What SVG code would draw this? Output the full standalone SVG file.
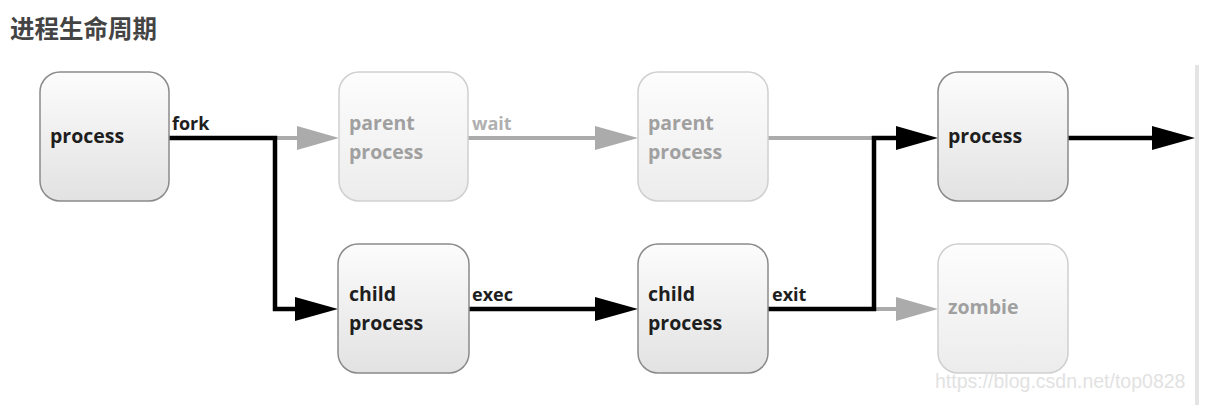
<svg xmlns="http://www.w3.org/2000/svg" width="1221" height="420" viewBox="0 0 1221 420">
<defs>
<linearGradient id="g" x1="0" y1="0" x2="0" y2="1"><stop offset="0" stop-color="#fcfcfc"/><stop offset="1" stop-color="#e2e2e2"/></linearGradient>
<linearGradient id="gf" x1="0" y1="0" x2="0" y2="1"><stop offset="0" stop-color="#fdfdfd"/><stop offset="1" stop-color="#ececec"/></linearGradient>
</defs>
<style>
.n{fill:url(#g);stroke:#8a8a8a;stroke-width:1.5}
.f{fill:url(#gf);stroke:#cfcfcf;stroke-width:1.5}
.t{font-family:"Open Sans","Liberation Sans",sans-serif;font-weight:bold;font-size:19.5px;fill:#1e1e1e}
.tf{font-family:"Open Sans","Liberation Sans",sans-serif;font-weight:bold;font-size:19.5px;fill:#a0a0a0}
.l{font-family:"Open Sans","Liberation Sans",sans-serif;font-weight:bold;font-size:18px;fill:#1e1e1e}
.lf{font-family:"Open Sans","Liberation Sans",sans-serif;font-weight:bold;font-size:18px;fill:#b0b0b0}
.k{fill:none;stroke:#000;stroke-width:4.5}
.g{fill:none;stroke:#ababab;stroke-width:4}
.ka{fill:#000}
.ga{fill:#ababab}
</style>
<rect width="1221" height="420" fill="#fff"/>
<text x="10" y="38" font-family="'Noto Sans CJK SC',sans-serif" font-weight="bold" font-size="24.5" fill="#444">进程生命周期</text>
<rect x="1195" y="65" width="4" height="340" fill="#e4e4e4"/>
<g id="connectors">
<path class="g" d="M275 138H300"/>
<polygon class="ga" points="297,126 339,138 297,150"/>
<path class="k" d="M169 138H275V309H298"/>
<polygon class="ka" points="295,297 338,309 295,321"/>
<text class="l" x="172" y="130">fork</text>
<path class="g" d="M468 138H598"/>
<polygon class="ga" points="595,126 638,138 595,150"/>
<text class="lf" x="472" y="130">wait</text>
<path class="k" d="M469 309H598"/>
<polygon class="ka" points="595,297 638,309 595,321"/>
<text class="l" x="472" y="301">exec</text>
<path class="g" d="M768 138H874"/>
<path class="g" d="M874 309H899"/>
<polygon class="ga" points="896,297 938,309 896,321"/>
<path class="k" d="M768 309H874V138H899"/>
<polygon class="ka" points="896,126 938,138 896,150"/>
<text class="l" x="772" y="301">exit</text>
<path class="k" d="M1068 138H1155"/>
<polygon class="ka" points="1152,126 1195,138 1152,150"/>
</g>
<g id="process1"><rect class="n" x="40" y="72" width="129" height="129" rx="20"/><text class="t" x="50" y="143">process</text></g>
<g id="parent1"><rect class="f" x="339" y="72" width="129" height="129" rx="20"/><text class="tf" x="349" y="130">parent</text><text class="tf" x="349" y="159">process</text></g>
<g id="parent2"><rect class="f" x="638" y="72" width="130" height="129" rx="20"/><text class="tf" x="648" y="130">parent</text><text class="tf" x="648" y="159">process</text></g>
<g id="process2"><rect class="n" x="938" y="72" width="130" height="129" rx="20"/><text class="t" x="948" y="143">process</text></g>
<g id="child1"><rect class="n" x="338" y="244" width="131" height="129" rx="20"/><text class="t" x="349" y="301">child</text><text class="t" x="349" y="330">process</text></g>
<g id="child2"><rect class="n" x="638" y="244" width="130" height="129" rx="20"/><text class="t" x="648" y="301">child</text><text class="t" x="648" y="330">process</text></g>
<g id="zombie"><rect class="f" x="938" y="244" width="130" height="129" rx="20"/><text class="tf" x="948" y="314">zombie</text></g>
<text x="935" y="388" font-family="'Liberation Sans',sans-serif" font-size="19.5" fill="#e2e2e2">https://blog.csdn.net/top0828</text>
</svg>
